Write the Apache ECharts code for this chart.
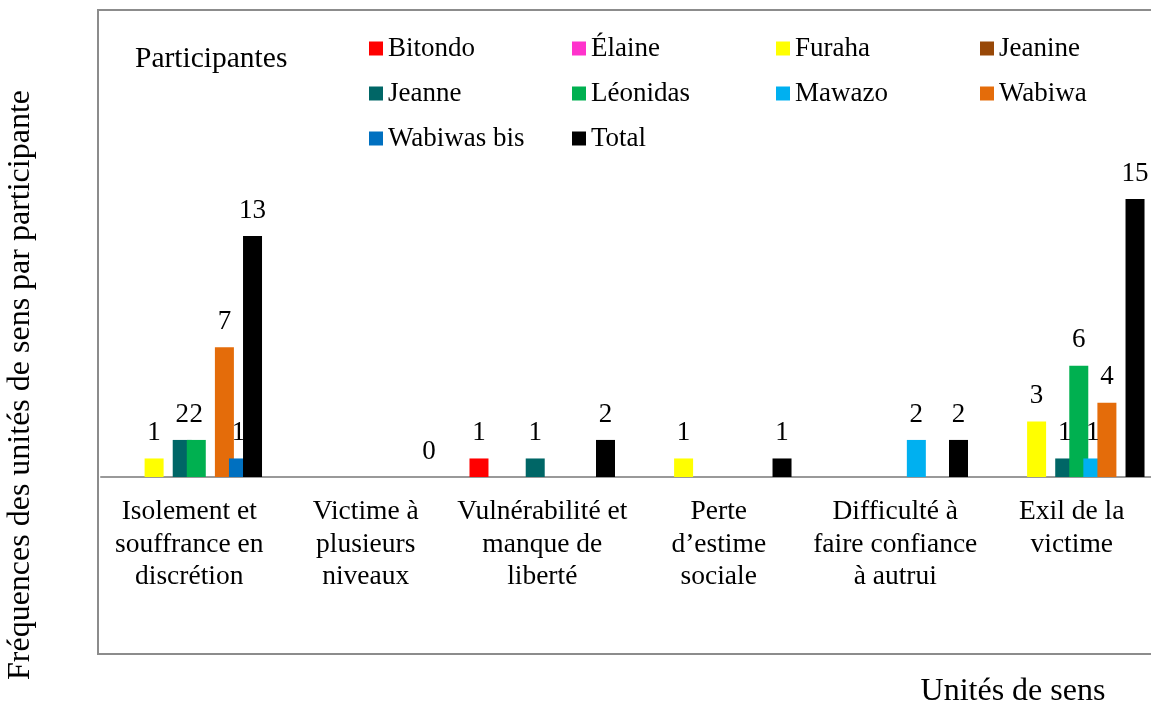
<!DOCTYPE html>
<html lang="fr">
<head>
    <meta charset="UTF-8">
    <title>Unités de sens par participante</title>
    <script src="https://cdn.jsdelivr.net/npm/echarts@6/dist/echarts.min.js"></script>
    <style>
        html, body { margin: 0; padding: 0; background: #fff; }
        #chart { width: 1151px; height: 707px; }
    </style>
</head>
<body>
    <div id="chart"></div>
    <script>
        // catégories (unités de sens)
        var categories = [
            'Isolement et\nsouffrance en\ndiscrétion',
            'Victime à\nplusieurs\nniveaux',
            'Vulnérabilité et\nmanque de\nliberté',
            'Perte\nd’estime\nsociale',
            'Difficulté à\nfaire confiance\nà autrui',
            'Exil de la\nvictime'
        ];

        // fréquences par participante (null = rien)
        var bitondo    = [null, null, 1, null, null, null];
        var elaine     = [null, null, null, null, null, null];
        var furaha     = [1, null, null, 1, null, 3];
        var jeanine    = [null, null, null, null, null, null];
        var jeanne     = [2, null, 1, null, null, 1];
        var leonidas   = [2, null, null, null, null, 6];
        var mawazo     = [null, null, null, null, 2, 1];
        var wabiwa     = [7, null, null, null, null, 4];
        var wabiwasBis = [1, null, null, null, null, null];
        var total      = [13, 0, 2, 1, 2, 15];

        var names  = ['Bitondo', 'Élaine', 'Furaha', 'Jeanine', 'Jeanne', 'Léonidas', 'Mawazo', 'Wabiwa', 'Wabiwas bis', 'Total'];
        var values = [bitondo, elaine, furaha, jeanine, jeanne, leonidas, mawazo, wabiwa, wabiwasBis, total];
        var colors = ['#ff0000', '#ff33cc', '#ffff00', '#984807', '#006666', '#00b050', '#00b0f0', '#e46c0a', '#0070c0', '#000000'];

        var FONT = '"Liberation Serif", "Times New Roman", serif';

        var series = [];
        for (var i = 0; i < names.length; i++) {
            series.push({
                name: names[i],
                type: 'bar',
                data: values[i],
                barWidth: 19,
                barGap: '-26%',
                itemStyle: { color: colors[i] },
                label: {
                    show: true,
                    position: 'top',
                    distance: 12,
                    fontFamily: FONT,
                    fontSize: 27,
                    color: '#000'
                }
            });
        }

        function legendCol(left, data) {
            return {
                orient: 'vertical',
                left: left,
                top: 35,
                padding: 0,
                data: data,
                icon: 'rect',
                itemWidth: 14,
                itemHeight: 14,
                itemGap: 18,
                textStyle: { fontFamily: FONT, fontSize: 27, lineHeight: 27, color: '#000' }
            };
        }

        var myChart = echarts.init(document.getElementById('chart'));
        var option = {
            animation: false,
            color: colors,
            grid: { left: 101, right: -9, top: 10, bottom: 230, outerBoundsMode: 'none', containLabel: false },
            legend: [
                legendCol(369, ['Bitondo', 'Jeanne', 'Wabiwas bis']),
                legendCol(572, ['Élaine', 'Léonidas', 'Total']),
                legendCol(776, ['Furaha', 'Mawazo']),
                legendCol(980, ['Jeanine', 'Wabiwa'])
            ],
            xAxis: {
                type: 'category',
                data: categories,
                axisLine: { lineStyle: { color: '#999', width: 2 } },
                axisTick: { show: false },
                axisLabel: {
                    interval: 0,
                    margin: 19,
                    fontFamily: FONT,
                    fontSize: 27.5,
                    lineHeight: 32.5,
                    color: '#000'
                }
            },
            yAxis: {
                type: 'value',
                min: 0,
                max: 25.2,
                axisLine: { show: false },
                axisTick: { show: false },
                axisLabel: { show: false },
                splitLine: { show: false }
            },
            graphic: [
                {
                    type: 'rect',
                    shape: { x: 98, y: 10, width: 1100, height: 644 },
                    style: { fill: null, stroke: '#8c8c8c', lineWidth: 2 },
                    silent: true
                },
                {
                    type: 'text',
                    x: 135, y: 59,
                    style: { text: 'Participantes', fontFamily: FONT, fontSize: 29.5, fill: '#000', textAlign: 'left', textVerticalAlign: 'middle', align: 'left', verticalAlign: 'middle' }
                },
                {
                    type: 'text',
                    x: 1013, y: 692,
                    style: { text: 'Unités de sens', fontFamily: FONT, fontSize: 32, fill: '#000', textAlign: 'center', textVerticalAlign: 'middle', align: 'center', verticalAlign: 'middle' }
                },
                {
                    type: 'text',
                    x: 21, y: 385,
                    rotation: Math.PI / 2,
                    style: { text: 'Fréquences des unités de sens par participante', fontFamily: FONT, fontSize: 32, fill: '#000', textAlign: 'center', textVerticalAlign: 'middle', align: 'center', verticalAlign: 'middle' }
                }
            ],
            series: series
        };
        myChart.setOption(option);
    </script>
</body>
</html>
